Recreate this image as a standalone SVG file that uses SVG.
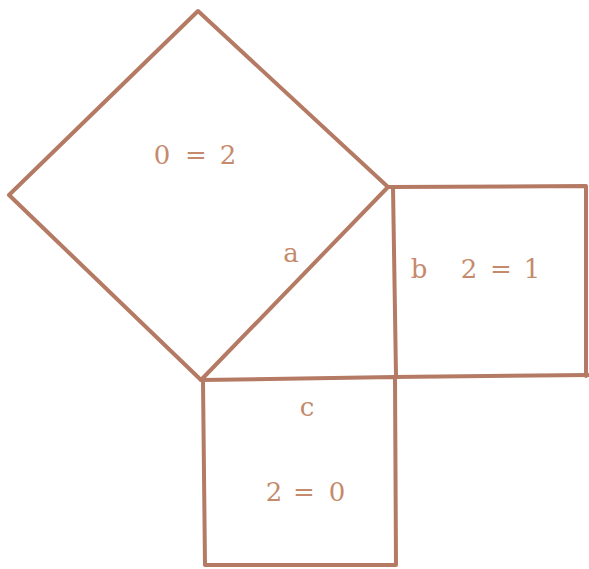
<svg xmlns="http://www.w3.org/2000/svg" width="589" height="569" viewBox="0 0 589 569">
<style>
.ln{fill:none;stroke:#b47a64;stroke-width:4;stroke-linejoin:round;stroke-linecap:round}
.t{font-family:"DejaVu Serif","Liberation Serif",serif;font-size:26px;fill:#c58a6c;text-anchor:middle}
</style>
<rect width="589" height="569" fill="#ffffff"/>
<g id="square-a">
<polygon class="ln" points="198,11 388,187 201,380 9,195"/>
<text class="t" x="162" y="164">0</text><text class="t" x="196" y="164">=</text><text class="t" x="228" y="164">2</text>
<text class="t" x="291" y="262">a</text>
</g>
<g id="square-b">
<polyline class="ln" points="389,187 586,186 586,376"/>
<line class="ln" x1="393" y1="187" x2="396" y2="376"/>
<line class="ln" x1="393" y1="377" x2="589" y2="375"/>
<text class="t" x="419" y="278">b</text><text class="t" x="469" y="278">2</text><text class="t" x="501" y="278">=</text><text class="t" x="532" y="278">1</text>
</g>
<g id="square-c">
<polyline class="ln" points="201,380 395,377 396,565 205,565 203,381"/>
<text class="t" x="307" y="416">c</text>
<text class="t" x="274" y="501">2</text><text class="t" x="304" y="501">=</text><text class="t" x="337" y="501">0</text>
</g>
<g id="connectors"></g>
</svg>
